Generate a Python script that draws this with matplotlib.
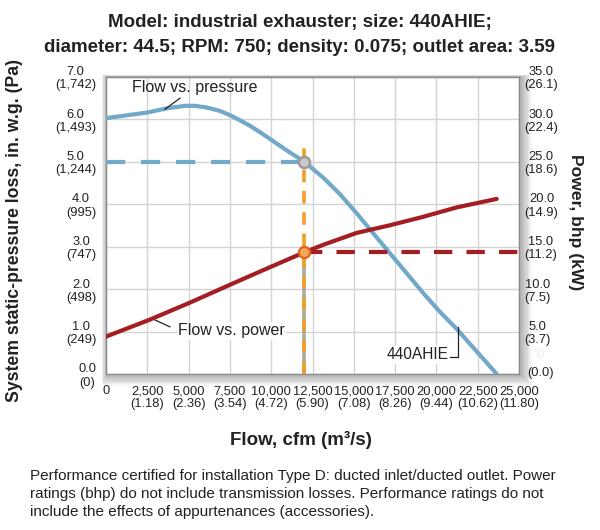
import matplotlib
matplotlib.use('Agg')
import matplotlib.pyplot as plt
from matplotlib.patches import Rectangle

plt.rcParams['font.family'] = ['Liberation Sans', 'DejaVu Sans']

# ---------------- data ----------------
flow_ticks = [0, 2500, 5000, 7500, 10000, 12500, 15000, 17500, 20000, 22500, 25000]
flow_tick_labels = ['0', '2,500\n(1.18)', '5,000\n(2.36)', '7,500\n(3.54)', '10,000\n(4.72)',
                    '12,500\n(5.90)', '15,000\n(7.08)', '17,500\n(8.26)', '20,000\n(9.44)',
                    '22,500\n(10.62)', '25,000\n(11.80)']
pressure_ticks = [0, 1, 2, 3, 4, 5, 6, 7]
pressure_tick_labels = ['0.0\n(0)', '1.0\n(249)', '2.0\n(498)', '3.0\n(747)', '4.0\n(995)',
                        '5.0\n(1,244)', '6.0\n(1,493)', '7.0\n(1,742)']
power_ticks = [0, 5, 10, 15, 20, 25, 30, 35]
power_tick_labels = ['', '5.0\n(3.7)', '10.0\n(7.5)', '15.0\n(11.2)', '20.0\n(14.9)',
                     '25.0\n(18.6)', '30.0\n(22.4)', '35.0\n(26.1)']
power_zero_label = '(0.0)'
power_zero_ghost = '0'

pressure_flow = [0, 2460, 3670, 4780, 5390, 6090, 6900, 7500, 8110, 8720, 9320, 9930, 10530,
                 11140, 11985, 13150, 14165, 15175, 16180, 17190, 18200, 19210, 20220, 21230,
                 22235, 23650]
pressure_inwg = [6.02, 6.15, 6.25, 6.31, 6.31, 6.27, 6.19, 6.09, 5.97, 5.84, 5.69, 5.53, 5.37,
                 5.21, 5.0, 4.62, 4.23, 3.78, 3.31, 2.84, 2.37, 1.90, 1.46, 1.06, 0.62, 0.0]

power_flow = [0, 2660, 5085, 7505, 9730, 11985, 13150, 15175, 17190, 19210, 21230, 23650]
power_bhp = [4.4, 6.4, 8.4, 10.5, 12.4, 14.3, 15.2, 16.6, 17.5, 18.5, 19.6, 20.6]

op_flow = 12000
op_pressure = 5.0
op_power = 14.3

title_lines = ['Model: industrial exhauster; size: 440AHIE;',
               'diameter: 44.5; RPM: 750; density: 0.075; outlet area: 3.59']
footnote_lines = ['Performance certified for installation Type D: ducted inlet/ducted outlet. Power',
                  'ratings (bhp) do not include transmission losses. Performance ratings do not',
                  'include the effects of appurtenances (accessories).']

# ---------------- colours ----------------
BLUE = '#72a8c8'
RED = '#a31d22'
ORANGE = '#f0a028'
GRAY = '#a8a8a8'
TXT = '#222222'

W, H = 600, 530
fig = plt.figure(figsize=(6.0, 5.3), dpi=100)
fig.patch.set_facecolor('white')

x0, x1, ytop, ybot = 106, 519, 76.5, 374
ax = fig.add_axes([x0 / W, 1 - ybot / H, (x1 - x0) / W, (ybot - ytop) / H])

# drop shadow behind plot
for i in range(1, 10):
    fig.patches.append(Rectangle(((x0 + 1 - i * 0.6) / W, 1 - (ybot + i * 1.3) / H),
                                 (x1 - x0 + i * 1.9) / W, (ybot - ytop + i * 1.5) / H,
                                 transform=fig.transFigure, facecolor='black',
                                 alpha=0.035, edgecolor='none', zorder=-5))

ax.set_facecolor('white')
ax.set_xlim(0, 25000)
ax.set_ylim(0, 7)
ax.set_xticks(flow_ticks)
ax.set_xticklabels(flow_tick_labels)
ax.set_yticks(pressure_ticks)
ax.set_yticklabels(pressure_tick_labels)
ax.grid(True, color='#d4d4d4', lw=1.0)
ax.set_axisbelow(True)
ax.tick_params(length=0, labelsize=9.3, colors=TXT, pad=7)
ax.tick_params(axis='x', pad=8)
for t in ax.get_yticklabels() + ax.get_xticklabels():
    t.set_multialignment('center')
    t.set_linespacing(1.15)
for s in ax.spines.values():
    s.set_color('#8a8a8a')
    s.set_linewidth(1.0)

ax2 = ax.twinx()
ax2.set_ylim(0, 35)
ax2.set_yticks(power_ticks)
ax2.set_yticklabels(power_tick_labels)
ax2.tick_params(length=0, labelsize=9.3, colors=TXT, pad=4)
for t in ax2.get_yticklabels():
    t.set_multialignment('center')
    t.set_linespacing(1.15)
for s in ax2.spines.values():
    s.set_visible(False)
# the zero label on the power axis sits a little higher, with a ghosted "0"
ax2.annotate(power_zero_label, xy=(1, 0), xycoords='axes fraction', xytext=(15.3, 0.5),
             textcoords='offset points', ha='center', va='center', fontsize=9.3, color=TXT,
             annotation_clip=False)
ax2.annotate(power_zero_ghost, xy=(1, 0), xycoords='axes fraction', xytext=(15.3, 13.5),
             textcoords='offset points', ha='center', va='center', fontsize=9.3,
             color='#ececec', annotation_clip=False)

# reference lines
ax.plot([op_flow, op_flow], [0, op_power / 5.0], color=GRAY, lw=2.6, zorder=2,
        solid_capstyle='butt')
ax.plot([op_flow, op_flow], [0, 5.33], color=ORANGE, lw=2.6, zorder=3,
        dashes=(3.5, 2.4), dash_capstyle='butt')
ax.plot([0, op_flow], [op_pressure, op_pressure], color=BLUE, lw=3.0, zorder=3,
        dashes=(4.6, 3.8), dash_capstyle='butt')
ax2.plot([op_flow, 25000], [op_power, op_power], color=RED, lw=3.0, zorder=3,
         dashes=(4.4, 3.4), dash_capstyle='butt', clip_on=False)

# curves
ax.plot(pressure_flow, pressure_inwg, color=BLUE, lw=3.0, zorder=4,
        solid_capstyle='round', solid_joinstyle='round')
ax2.plot(power_flow, power_bhp, color=RED, lw=3.0, zorder=4,
         solid_capstyle='round', solid_joinstyle='round')

# operating point markers
ax.plot([op_flow], [op_pressure], 'o', ms=8, mfc='#c9c9c9', mec='#9a9a9a', mew=1.8, zorder=6)
ax2.plot([op_flow], [op_power], 'o', ms=8, mfc='#f4a95a', mec='#e2621c', mew=1.6, zorder=6)

# annotations
ax.text(1574, 6.75, 'Flow vs. pressure', fontsize=11.5, color=TXT, va='center', ha='left', zorder=7)
ax.plot([4480, 3570], [6.49, 6.23], color=TXT, lw=0.9, zorder=7)
ax.text(4360, 1.02, 'Flow vs. power', fontsize=11.5, color=TXT, va='center', ha='left', zorder=7,
        bbox=dict(facecolor='white', edgecolor='none', pad=1.0))
ax.plot([3870, 2970], [1.11, 1.27], color=TXT, lw=0.9, zorder=7)
ax.text(16990, 0.45, '440AHIE', fontsize=11.2, color=TXT, va='center', ha='left', zorder=7,
        bbox=dict(facecolor='white', edgecolor='none', pad=1.0))
ax.plot([20820, 21330, 21330], [0.39, 0.39, 1.11], color=TXT, lw=0.9, zorder=7)

# titles & labels
fig.text(0.5, 1 - 23 / H, title_lines[0], ha='center', va='center', fontsize=13.5,
         fontweight='bold', color=TXT)
fig.text(0.5, 1 - 48 / H, title_lines[1], ha='center', va='center', fontsize=13.5,
         fontweight='bold', color=TXT)
fig.text(15 / W, 1 - 231 / H, 'System static-pressure loss, in. w.g. (Pa)', rotation=90,
         ha='center', va='center', fontsize=12.7, fontweight='bold', color=TXT)
fig.text(575 / W, 1 - 222 / H, 'Power, bhp (kW)', rotation=-90, ha='center', va='center',
         fontsize=12.6, fontweight='bold', color=TXT)
fig.text(301 / W, 1 - 440 / H, 'Flow, cfm (m³/s)', ha='center', va='center', fontsize=13.5,
         fontweight='bold', color=TXT)
for i, line in enumerate(footnote_lines):
    fig.text(30 / W, 1 - (476 + 18 * i) / H, line, ha='left', va='center', fontsize=11,
             color=TXT)

fig.savefig('out.png', dpi=100)
